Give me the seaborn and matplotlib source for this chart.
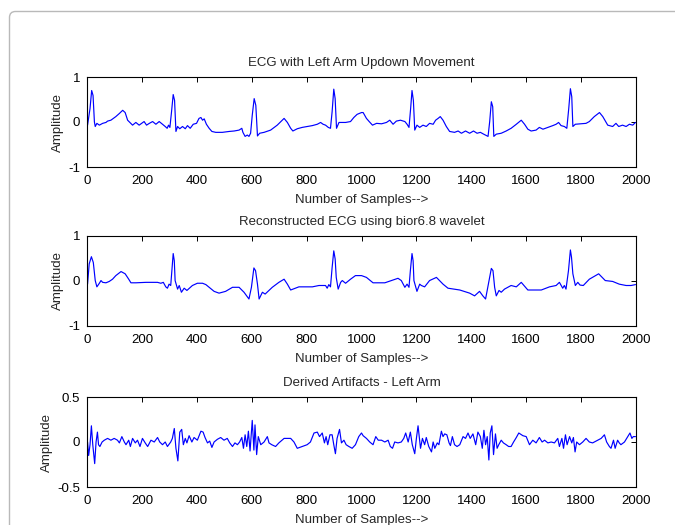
import matplotlib
matplotlib.use("Agg")
import matplotlib.pyplot as plt
import matplotlib.transforms as mtransforms
from matplotlib.patches import FancyBboxPatch
import seaborn as sns
import pandas as pd

# ---------------- data ----------------
titles = ["ECG with Left Arm Updown Movement",
          "Reconstructed ECG using bior6.8 wavelet",
          "Derived Artifacts - Left Arm"]
xlabel_text = "Number of Samples-->"
ylabel_text = "Amplitude"
xticks = [0, 200, 400, 600, 800, 1000, 1200, 1400, 1600, 1800, 2000]
yticks_ecg = [-1, 0, 1]
yticks_art = [-0.5, 0, 0.5]
yticklabels_ecg = ["-1", "0", "1"]
yticklabels_art = ["-0.5", "0", "0.5"]

ecg_x = [2, 11, 17, 22, 27, 30, 36, 45, 57, 69, 75, 87, 105, 118, 130, 139, 148, 156, 166, 178,
         190, 208, 217, 227, 239, 251, 263, 275, 285, 292, 297, 302, 308, 314, 319, 324, 330, 338,
         348, 358, 366, 376, 387, 399, 408, 415, 421, 427, 435, 445, 455, 469, 493, 518, 536, 554,
         564, 568, 576, 584, 590, 596, 602, 609, 615, 621, 629, 645, 669, 693, 718, 730, 742, 750,
         766, 784, 802, 821, 839, 851, 860, 869, 879, 887, 893, 899, 904, 909, 918, 942, 960, 972,
         984, 1000, 1006, 1018, 1028, 1040, 1055, 1073, 1091, 1103, 1115, 1127, 1142, 1158, 1166,
         1173, 1179, 1184, 1189, 1194, 1202, 1212, 1224, 1236, 1248, 1261, 1270, 1279, 1287, 1297,
         1309, 1321, 1339, 1352, 1364, 1379, 1394, 1408, 1421, 1433, 1445, 1455, 1461, 1467, 1473,
         1478, 1482, 1491, 1509, 1527, 1545, 1564, 1582, 1594, 1606, 1618, 1636, 1648, 1661, 1679,
         1697, 1709, 1718, 1727, 1739, 1748, 1755, 1761, 1766, 1770, 1779, 1800, 1818, 1830, 1848,
         1867, 1879, 1897, 1915, 1927, 1937, 1951, 1964, 1976, 1988, 1998]
ecg_y = [-0.07, 0.30, 0.70, 0.59, 0.0, -0.10, -0.03, -0.07, -0.03, -0.01, 0.02, 0.04, 0.12, 0.19,
         0.26, 0.21, 0.04, -0.01, -0.07, -0.01, -0.07, 0.01, -0.07, -0.03, 0.01, -0.05, 0.01, -0.05,
         -0.10, -0.14, -0.07, -0.12, 0.23, 0.61, 0.48, -0.21, -0.10, -0.15, -0.10, -0.15, -0.08,
         -0.14, -0.05, -0.03, 0.08, 0.10, 0.04, 0.07, -0.05, -0.14, -0.21, -0.23, -0.23, -0.21,
         -0.20, -0.18, -0.14, -0.23, -0.32, -0.29, -0.32, -0.25, 0.15, 0.52, 0.37, -0.31, -0.25,
         -0.23, -0.18, -0.07, 0.08, -0.01, -0.14, -0.20, -0.15, -0.12, -0.10, -0.08, -0.05, -0.01,
         -0.05, -0.07, -0.12, -0.14, 0.23, 0.73, 0.52, -0.14, -0.01, -0.01, 0.01, 0.10, 0.17, 0.21,
         0.21, 0.08, 0.01, -0.07, -0.03, -0.04, -0.01, 0.04, -0.05, 0.02, 0.04, 0.01, -0.05, -0.12,
         0.30, 0.70, 0.48, -0.18, -0.07, -0.12, -0.07, -0.10, -0.03, -0.05, 0.04, 0.08, 0.12, 0.04,
         -0.10, -0.21, -0.23, -0.20, -0.25, -0.20, -0.25, -0.20, -0.25, -0.23, -0.27, -0.30, -0.32,
         0.01, 0.45, 0.34, -0.32, -0.27, -0.25, -0.20, -0.14, -0.05, 0.04, -0.05, -0.16, -0.20,
         -0.18, -0.12, -0.16, -0.12, -0.08, -0.05, -0.01, -0.08, -0.10, -0.14, 0.30, 0.74, 0.56,
         -0.10, -0.05, -0.04, -0.03, 0.01, 0.12, 0.21, 0.12, -0.07, -0.10, -0.03, -0.10, -0.07,
         -0.10, -0.05, -0.07, -0.01]

rec_x = [2, 8, 16, 23, 30, 36, 45, 51, 57, 69, 81, 93, 105, 124, 139, 152, 160, 178, 215, 257,
         269, 278, 287, 293, 299, 305, 309, 314, 318, 321, 330, 336, 344, 354, 364, 384, 402, 421,
         433, 445, 463, 481, 505, 530, 554, 572, 590, 599, 608, 614, 621, 627, 639, 649, 675, 699,
         718, 730, 742, 772, 821, 845, 869, 875, 881, 887, 893, 899, 904, 908, 915, 924, 930, 942,
         960, 978, 1000, 1018, 1042, 1085, 1109, 1133, 1145, 1152, 1158, 1166, 1173, 1178, 1184,
         1188, 1191, 1202, 1212, 1218, 1230, 1248, 1273, 1297, 1315, 1358, 1394, 1412, 1430, 1442,
         1452, 1462, 1473, 1479, 1485, 1491, 1501, 1509, 1521, 1545, 1564, 1582, 1606, 1655, 1685,
         1709, 1721, 1733, 1739, 1745, 1754, 1761, 1765, 1770, 1779, 1788, 1796, 1808, 1830, 1864,
         1888, 1915, 1939, 1964, 1982, 1998]
rec_y = [-0.07, 0.38, 0.54, 0.41, 0.01, -0.13, -0.05, 0.01, -0.03, -0.04, -0.01, 0.04, 0.12, 0.21,
         0.16, 0.04, -0.04, -0.04, -0.03, -0.03, -0.05, -0.03, -0.13, -0.16, -0.07, -0.10, 0.23,
         0.61, 0.45, 0.01, -0.18, -0.10, -0.25, -0.16, -0.21, -0.10, -0.05, -0.05, -0.08, -0.14,
         -0.23, -0.27, -0.23, -0.14, -0.14, -0.25, -0.40, -0.14, 0.29, 0.23, -0.07, -0.40, -0.25,
         -0.29, -0.14, -0.03, 0.04, -0.07, -0.20, -0.13, -0.13, -0.10, -0.10, -0.16, -0.08, -0.13,
         0.30, 0.67, 0.49, 0.08, -0.18, -0.03, 0.01, -0.05, 0.04, 0.12, 0.12, 0.08, -0.04, -0.04,
         0.01, 0.06, 0.01, -0.07, -0.14, -0.07, -0.14, 0.23, 0.61, 0.45, 0.01, -0.23, -0.07, -0.10,
         -0.13, 0.01, 0.08, -0.07, -0.16, -0.20, -0.27, -0.33, -0.23, -0.33, -0.40, -0.07, 0.28,
         0.23, -0.14, -0.33, -0.21, -0.25, -0.18, -0.10, -0.13, -0.03, -0.20, -0.20, -0.13, -0.10,
         -0.03, -0.16, -0.10, -0.18, 0.23, 0.69, 0.53, 0.16, -0.10, -0.03, -0.09, -0.10, 0.04,
         0.16, 0.01, -0.01, -0.07, -0.10, -0.10, -0.08]

art_x = [2, 6, 11, 16, 21, 28, 33, 38, 42, 47, 55, 63, 75, 87, 99, 111, 118, 127, 136, 142, 152,
         158, 166, 176, 184, 193, 202, 212, 221, 233, 245, 257, 265, 275, 285, 293, 305, 311, 318,
         324, 331, 338, 345, 351, 358, 364, 372, 382, 390, 402, 415, 423, 430, 439, 447, 455, 463,
         475, 487, 499, 511, 520, 530, 539, 548, 556, 564, 570, 576, 582, 588, 594, 602, 608, 612,
         618, 624, 633, 645, 657, 663, 673, 687, 699, 718, 742, 754, 766, 784, 802, 814, 827, 839,
         847, 857, 865, 871, 877, 885, 893, 899, 905, 911, 920, 927, 936, 944, 954, 966, 978, 990,
         1000, 1006, 1018, 1030, 1042, 1052, 1061, 1073, 1085, 1097, 1105, 1113, 1121, 1133, 1145,
         1154, 1161, 1170, 1178, 1185, 1194, 1200, 1206, 1215, 1222, 1230, 1236, 1245, 1255, 1261,
         1267, 1276, 1282, 1291, 1297, 1303, 1311, 1319, 1324, 1331, 1339, 1348, 1358, 1370, 1379,
         1388, 1396, 1406, 1416, 1424, 1433, 1440, 1446, 1452, 1458, 1464, 1469, 1475, 1481, 1488,
         1494, 1500, 1509, 1517, 1527, 1536, 1545, 1554, 1564, 1573, 1588, 1600, 1612, 1624, 1636,
         1648, 1658, 1667, 1679, 1691, 1703, 1715, 1721, 1730, 1736, 1743, 1749, 1758, 1766, 1772,
         1778, 1784, 1794, 1806, 1818, 1830, 1842, 1861, 1873, 1885, 1893, 1903, 1909, 1918, 1924,
         1933, 1939, 1945, 1958, 1970, 1978, 1985, 1990, 1998]
art_y = [0.0, -0.15, -0.03, 0.18, -0.03, -0.24, 0.0, 0.11, -0.03, -0.05, 0.0, 0.02, 0.04, 0.02,
         0.04, 0.02, -0.01, 0.06, 0.0, -0.03, 0.02, -0.05, 0.04, -0.01, 0.02, -0.05, 0.04, -0.01,
         -0.05, 0.02, 0.0, 0.05, 0.0, -0.03, 0.0, -0.05, 0.0, 0.04, 0.15, -0.07, -0.21, 0.11, 0.14,
         -0.03, 0.04, -0.01, 0.07, 0.0, 0.05, 0.02, 0.12, 0.11, 0.05, -0.01, 0.01, -0.06, 0.0, 0.03,
         0.05, 0.02, 0.04, -0.01, -0.05, -0.01, -0.03, 0.0, 0.05, -0.07, 0.08, -0.05, 0.12, -0.10,
         0.24, -0.09, 0.19, -0.14, 0.06, -0.03, 0.0, 0.06, -0.01, -0.03, -0.05, -0.01, 0.04, 0.04,
         0.0, -0.07, -0.05, -0.03, 0.0, 0.10, 0.11, 0.06, 0.10, -0.01, 0.06, -0.03, 0.08, 0.08,
         -0.03, -0.13, 0.04, 0.14, -0.01, 0.02, -0.03, -0.05, -0.07, -0.03, 0.06, 0.10, 0.07, 0.04,
         0.0, -0.03, 0.06, 0.02, 0.02, 0.0, 0.02, -0.05, -0.07, 0.0, -0.01, 0.0, 0.04, 0.10, 0.0,
         0.11, -0.03, -0.13, 0.04, 0.18, -0.07, 0.04, -0.03, 0.05, -0.05, -0.11, 0.0, -0.07, -0.01,
         -0.03, 0.12, 0.06, 0.09, 0.08, -0.01, -0.04, 0.06, -0.03, -0.05, -0.03, 0.06, 0.04, 0.10,
         0.04, 0.09, -0.03, 0.11, 0.06, -0.07, 0.13, -0.03, 0.06, -0.20, 0.10, 0.18, -0.14, 0.09,
         -0.07, -0.03, 0.02, -0.01, -0.03, -0.05, -0.05, 0.0, 0.05, 0.10, 0.07, 0.06, -0.03, 0.02,
         -0.01, 0.05, 0.0, 0.02, -0.01, 0.0, -0.01, 0.04, -0.05, 0.04, -0.07, 0.08, -0.03, 0.06,
         -0.01, 0.05, -0.11, 0.0, -0.03, 0.0, 0.04, 0.0, -0.01, 0.02, 0.04, 0.08, 0.0, -0.05, -0.07,
         0.02, -0.07, 0.02, -0.01, -0.03, 0.0, 0.06, 0.10, 0.04, 0.06, 0.06]

# ---------------- figure ----------------
sns.set_style("white")
plt.rcParams["font.family"] = ["Liberation Sans", "DejaVu Sans"]
plt.rcParams["font.size"] = 9.5

W, H = 675, 525
fig = plt.figure(figsize=(W / 100, H / 100), dpi=100)
fig.patch.set_facecolor("white")

# page frame (light grey rounded border)
frame = FancyBboxPatch((9.5, -30), 720, 525 - 11.5 + 30,
                       boxstyle="round,pad=0,rounding_size=6",
                       transform=mtransforms.IdentityTransform(),
                       facecolor="none", edgecolor="#b9b9b9", linewidth=1.0)
fig.patches.append(frame)

left, width, height = 87 / W, 549 / W, 90 / H
bottoms = [1 - 167 / H, 1 - 326 / H, 1 - 487 / H]

series = [
    (ecg_x, ecg_y, yticks_ecg, yticklabels_ecg, (-1, 1)),
    (rec_x, rec_y, yticks_ecg, yticklabels_ecg, (-1, 1)),
    (art_x, art_y, yticks_art, yticklabels_art, (-0.5, 0.5)),
]

for i, (xs, ys, yt, ytl, ylim) in enumerate(series):
    ax = fig.add_axes([left, bottoms[i], width, height])
    df = pd.DataFrame({"sample": xs, "amp": ys})
    sns.lineplot(data=df, x="sample", y="amp", ax=ax, color="#0000ff",
                 linewidth=0.85, estimator=None, sort=False)
    ax.set_xlim(0, 2000)
    ax.set_ylim(*ylim)
    ax.set_xticks(xticks)
    ax.set_xticklabels([str(t) for t in xticks])
    ax.set_yticks(yt)
    ax.set_yticklabels(ytl)
    ax.tick_params(axis="x", pad=6)
    ax.tick_params(axis="y", pad=5)
    ax.tick_params(direction="in", top=True, right=True, length=3.5, width=0.7,
                   labelsize=9.5, colors="black")
    for sp in ax.spines.values():
        sp.set_visible(True)
        sp.set_color("black")
        sp.set_linewidth(0.8)
    ax.set_title(titles[i], fontsize=9.5, pad=8)
    ax.set_xlabel(xlabel_text, fontsize=9.5, labelpad=5)
    ax.set_ylabel(ylabel_text, fontsize=9.5, labelpad=3)

fig.savefig("out.png", dpi=100, facecolor="white")
